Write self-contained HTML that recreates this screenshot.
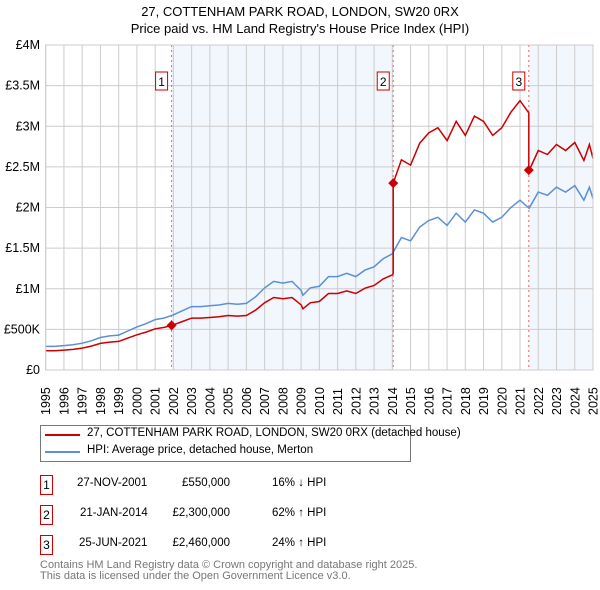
<!DOCTYPE html>
<html><head><meta charset="utf-8"><style>
body{margin:0;background:#fff;font-family:"Liberation Sans","DejaVu Sans",sans-serif;}
#wrap{position:relative;width:600px;height:590px;overflow:hidden;}
.t{position:absolute;white-space:nowrap;font-size:11.5px;color:#000;}
.box{position:absolute;border:1px solid #c00;width:11px;height:18px;font-size:12px;text-align:center;line-height:18px;}
</style></head><body><div id="wrap">
<div class="t" style="left:0;width:600px;text-align:center;top:4px;font-size:13px">27, COTTENHAM PARK ROAD, LONDON, SW20 0RX</div>
<div class="t" style="left:0;width:600px;text-align:center;top:21px;font-size:13px">Price paid vs. HM Land Registry's House Price Index (HPI)</div>
<svg id="svg" width="600" height="420" style="position:absolute;left:0;top:0"></svg>
<div style="position:absolute;left:40px;top:425px;width:369px;height:35px;border:1px solid #777"></div>
<div style="position:absolute;left:45px;top:434px;width:35px;height:2px;background:#c00"></div>
<div class="t" style="left:87px;top:427px;font-size:11.5px">27, COTTENHAM PARK ROAD, LONDON, SW20 0RX (detached house)</div>
<div style="position:absolute;left:45px;top:451px;width:35px;height:2px;background:#5b8fd6"></div>
<div class="t" style="left:87px;top:444px;font-size:11.5px">HPI: Average price, detached house, Merton</div>
<div class="box" style="left:40px;top:475px">1</div>
<div class="t" style="left:77px;top:477px">27-NOV-2001</div>
<div class="t" style="left:150px;width:80px;text-align:right;top:477px">£550,000</div>
<div class="t" style="left:272px;top:477px">16% ↓ HPI</div>
<div class="box" style="left:40px;top:505px">2</div>
<div class="t" style="left:80px;top:507px">21-JAN-2014</div>
<div class="t" style="left:150px;width:80px;text-align:right;top:507px">£2,300,000</div>
<div class="t" style="left:272px;top:507px">62% ↑ HPI</div>
<div class="box" style="left:40px;top:535px">3</div>
<div class="t" style="left:79px;top:537px">25-JUN-2021</div>
<div class="t" style="left:150px;width:80px;text-align:right;top:537px">£2,460,000</div>
<div class="t" style="left:272px;top:537px">24% ↑ HPI</div>
<div class="t" style="left:40px;top:559px;color:#777;font-size:11px">Contains HM Land Registry data © Crown copyright and database right 2025.</div>
<div class="t" style="left:40px;top:570px;color:#777;font-size:11px">This data is licensed under the Open Government Licence v3.0.</div>
</div>
<script>
const hpiYears=[1995,1995.5,1996,1996.5,1997,1997.5,1998,1998.5,1999,1999.5,2000,2000.5,2001,2001.5,2002,2002.5,2003,2003.5,2004,2004.5,2005,2005.5,2006,2006.5,2007,2007.5,2008,2008.5,2009,2009.1,2009.5,2010,2010.5,2011,2011.5,2012,2012.5,2013,2013.5,2014,2014.5,2015,2015.5,2016,2016.5,2017,2017.5,2018,2018.5,2019,2019.5,2020,2020.5,2021,2021.5,2022,2022.5,2023,2023.5,2024,2024.5,2024.8,2025];
const hpiValues=[0.29,0.29,0.30,0.31,0.33,0.36,0.40,0.42,0.43,0.48,0.53,0.57,0.62,0.64,0.68,0.73,0.78,0.78,0.79,0.80,0.82,0.81,0.82,0.90,1.01,1.09,1.07,1.09,0.98,0.92,1.01,1.03,1.15,1.15,1.19,1.15,1.23,1.27,1.37,1.43,1.63,1.59,1.76,1.84,1.88,1.78,1.93,1.82,1.97,1.93,1.82,1.88,2.00,2.09,1.99,2.19,2.15,2.25,2.19,2.27,2.09,2.25,2.11];
const saleYears=[2001.9,2014.05,2021.48];
const salePrices=[0.55,2.30,2.46];
const saleLabels=["1","2","3"];
const yTicks=[0,0.5,1,1.5,2,2.5,3,3.5,4];
const yTickLabels=["£0","£500K","£1M","£1.5M","£2M","£2.5M","£3M","£3.5M","£4M"];
const xTicks=[];for(let y=1995;y<=2025;y++)xTicks.push(y);

const X0=45.7,X1=593,Y0=370,Y1=45;
const xs=y=>X0+(y-1995)/30*(X1-X0);
const ys=v=>Y0-v/4*(Y0-Y1);
const svg=document.getElementById('svg');const NS='http://www.w3.org/2000/svg';
const FF='Liberation Sans, DejaVu Sans, sans-serif';
function mk(t,a){const e=document.createElementNS(NS,t);for(const k in a)e.setAttribute(k,a[k]);svg.appendChild(e);return e;}
function hpiAt(y){for(let i=1;i<hpiYears.length;i++){if(y<=hpiYears[i]){const f=(y-hpiYears[i-1])/(hpiYears[i]-hpiYears[i-1]);return hpiValues[i-1]+f*(hpiValues[i]-hpiValues[i-1]);}}return hpiValues[hpiValues.length-1];}
[[0,1],[2,null]].forEach((p,i)=>{const a=xs(saleYears[p[0]]),b=p[1]===null?X1:xs(saleYears[p[1]]);
const r=mk('rect',{x:a,y:Y1,width:b-a,height:Y0-Y1,fill:'#eef3fc',opacity:0.75});

});
yTicks.forEach((v,i)=>{const l=mk('line',{x1:X0,x2:X1,y1:ys(v),y2:ys(v),stroke:'#ccc'});


const t=mk('text',{x:40,y:ys(v)+4,'text-anchor':'end','font-size':12.5,'font-family':FF});t.textContent=yTickLabels[i];

});
xTicks.forEach(y=>{const l=mk('line',{x1:xs(y),x2:xs(y),y1:Y1,y2:Y0,stroke:'#ccc'});


const cx=xs(y)+4.5,cy=Y0+45;
const t=mk('text',{x:cx,y:cy,transform:'rotate(-90 '+cx+' '+cy+')','font-size':12.5,'font-family':FF});t.textContent=y;

});
saleYears.forEach((y,i)=>{const l=mk('line',{x1:xs(y),x2:xs(y),y1:Y1,y2:Y0,stroke:'#e66','stroke-dasharray':'2,3'});

});
let d='';hpiYears.forEach((y,i)=>{d+=(i?'L':'M')+xs(y).toFixed(1)+','+ys(hpiValues[i]).toFixed(1);});
const hp=mk('path',{d,fill:'none',stroke:'#5b8fd6','stroke-width':1.5});


const ratio0=salePrices[0]/hpiAt(saleYears[0]);
function factorAt(y){let f=ratio0;for(let i=0;i<saleYears.length;i++)if(y>=saleYears[i])f=salePrices[i]/hpiAt(saleYears[i]);return f;}
const allY=hpiYears.concat(saleYears.map(s=>s-0.001),saleYears).sort((a,b)=>a-b);
let pd='';allY.forEach((y,i)=>{pd+=(i?'L':'M')+xs(y).toFixed(1)+','+ys(hpiAt(y)*factorAt(y)).toFixed(1);});
const pp=mk('path',{d:pd,fill:'none',stroke:'#c00','stroke-width':1.5});


saleYears.forEach((y,i)=>{const cx=xs(y),cy=ys(salePrices[i]);
const p=mk('path',{d:`M${cx-5},${cy}L${cx},${cy-5}L${cx+5},${cy}L${cx},${cy+5}Z`,fill:'#c00'});


const r=mk('rect',{x:cx-16,y:72,width:12,height:18,fill:'#fff',stroke:'#c00'});


const t=mk('text',{x:cx-10,y:86,'text-anchor':'middle','font-size':12,'font-family':FF});t.textContent=saleLabels[i];

});
const bd=mk('rect',{x:X0,y:Y1,width:X1-X0,height:Y0-Y1,fill:'none',stroke:'#ccc'});


</script></body></html>
